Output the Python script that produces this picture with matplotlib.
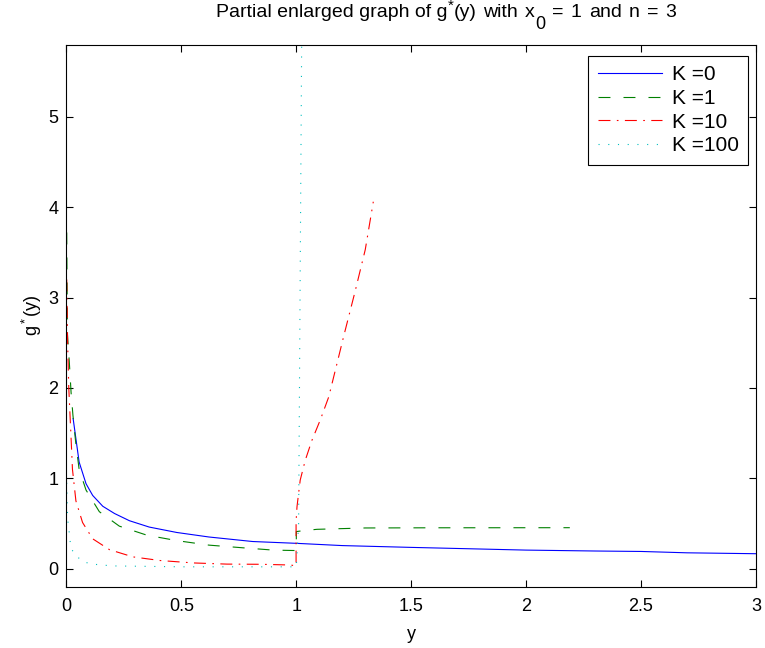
import matplotlib
matplotlib.use("Agg")
import matplotlib.pyplot as plt

plt.rcParams['font.family'] = ['Liberation Sans', 'DejaVu Sans']
plt.rcParams['mathtext.fontset'] = 'custom'
plt.rcParams['mathtext.rm'] = 'Liberation Sans'
plt.rcParams['mathtext.it'] = 'Liberation Sans'
plt.rcParams['lines.scale_dashes'] = False

# K = 0 (solid blue)
x_k0 = [0.029, 0.055, 0.085, 0.114, 0.158, 0.209, 0.274, 0.36, 0.48, 0.62, 0.81, 1.0,
        1.2, 1.5, 2.0, 2.3, 2.5, 2.7, 3.0]
y_k0 = [1.66, 1.18, 0.94, 0.81, 0.69, 0.61, 0.53, 0.46, 0.40, 0.35, 0.30, 0.28,
        0.255, 0.235, 0.205, 0.195, 0.19, 0.175, 0.165]

# K = 1 (dashed green)
x_k1 = [0.001, 0.004, 0.012, 0.02, 0.028, 0.04, 0.055, 0.085, 0.143, 0.23, 0.35, 0.48,
        0.62, 0.77, 0.9, 1.0, 1.0, 1.03, 1.09, 1.3, 1.6, 2.19]
y_k1 = [3.72, 2.6, 2.3, 1.95, 1.7, 1.4, 1.1, 0.87, 0.63, 0.47, 0.37, 0.31,
        0.26, 0.23, 0.205, 0.2, 0.41, 0.42, 0.435, 0.45, 0.452, 0.453]

# K = 10 (dash-dot red)
x_k10 = [0.001, 0.005, 0.01, 0.019, 0.026, 0.041, 0.07, 0.114, 0.187, 0.289, 0.406,
         0.552, 0.698, 0.844, 0.975, 0.999, 0.999, 1.003, 1.017, 1.039, 1.068, 1.105,
         1.141, 1.177, 1.206, 1.235, 1.257, 1.30, 1.335]
y_k10 = [3.2, 2.5, 2.0, 1.5, 1.1, 0.75, 0.51, 0.33, 0.21, 0.13, 0.09,
         0.063, 0.05, 0.048, 0.04, 0.03, 0.52, 0.686, 0.98, 1.20, 1.42, 1.65,
         1.90, 2.27, 2.57, 2.86, 3.08, 3.53, 4.06]

# K = 100 (dotted cyan)
x_k100 = [0.001, 0.005, 0.012, 0.019, 0.038, 0.073, 0.112, 0.2, 0.5, 0.98, 1.0, 1.01, 1.025]
y_k100 = [0.95, 0.55, 0.4, 0.23, 0.15, 0.076, 0.05, 0.03, 0.02, 0.02, 0.02, 0.5, 6.5]

W, H = 765, 648
fig = plt.figure(figsize=(W / 100, H / 100), dpi=100)
ax = fig.add_axes([0.0869, 0.0946, 0.9013, 0.8367])

lw = 0.8
ax.plot(x_k0, y_k0, color=(0, 0, 1), lw=lw, label='K =0')
ax.plot(x_k1, y_k1, color=(0, 0.5, 0), lw=lw, dashes=(8.6, 9.4), label='K =1')
ax.plot(x_k10, y_k10, color=(1, 0, 0), lw=lw, dashes=(8.6, 4.6, 1.2, 4.6), label='K =10')
ax.plot(x_k100, y_k100, color=(0, 0.75, 0.75), lw=lw, dashes=(0.8, 6.2), label='K =100')

ax.set_xlim(0, 3)
ax.set_ylim(-0.2, 5.8)
ax.set_xticks([0, 0.5, 1, 1.5, 2, 2.5, 3])
ax.set_xticklabels(['0', '0.5', '1', '1.5', '2', '2.5', '3'])
ax.set_yticks([0, 1, 2, 3, 4, 5])
ax.tick_params(direction='in', top=True, right=True, labelsize=13, length=5, width=0.8)
ax.tick_params(axis='x', pad=8)
ax.tick_params(axis='y', pad=6)
for s in ax.spines.values():
    s.set_linewidth(0.8)

ax.set_xlabel('y', fontsize=13, labelpad=8)
ax.set_ylabel('g$^*$(y)', fontsize=13, labelpad=3)

# title drawn word by word (MATLAB style: full-size, low subscript, wide spacing)
renderer = fig.canvas.get_renderer()
sp = 7.0
pieces = [  # text, fontsize, baseline (px from top), gap before (px)
    ('Partial enlarged graph of g', 14, 17, 0),
    ('*', 11, 10, 0),
    ('(y)', 14, 17, 0),
    ('with', 14, 17, sp),
    ('x', 14, 17, sp),
    ('0', 13, 29, 0.5),
    ('=', 14, 17, sp),
    ('1', 14, 17, sp),
    ('and', 14, 17, sp),
    ('n', 14, 17, sp),
    ('=', 14, 17, sp),
    ('3', 14, 17, sp),
]
px = 216
for s, fs, py, gap in pieces:
    t = fig.text((px + gap) / W, 1 - py / H, s, fontsize=fs, va='baseline')
    px = t.get_window_extent(renderer).x1

leg = ax.legend(loc='upper right', bbox_to_anchor=(0.9884, 0.9788), fontsize=15,
                fancybox=False, edgecolor='black', framealpha=1, handlelength=3.1,
                handletextpad=0.45, borderaxespad=0, labelspacing=0.22, borderpad=0.45)
leg.get_frame().set_linewidth(0.8)

fig.savefig('out.png', dpi=100)
